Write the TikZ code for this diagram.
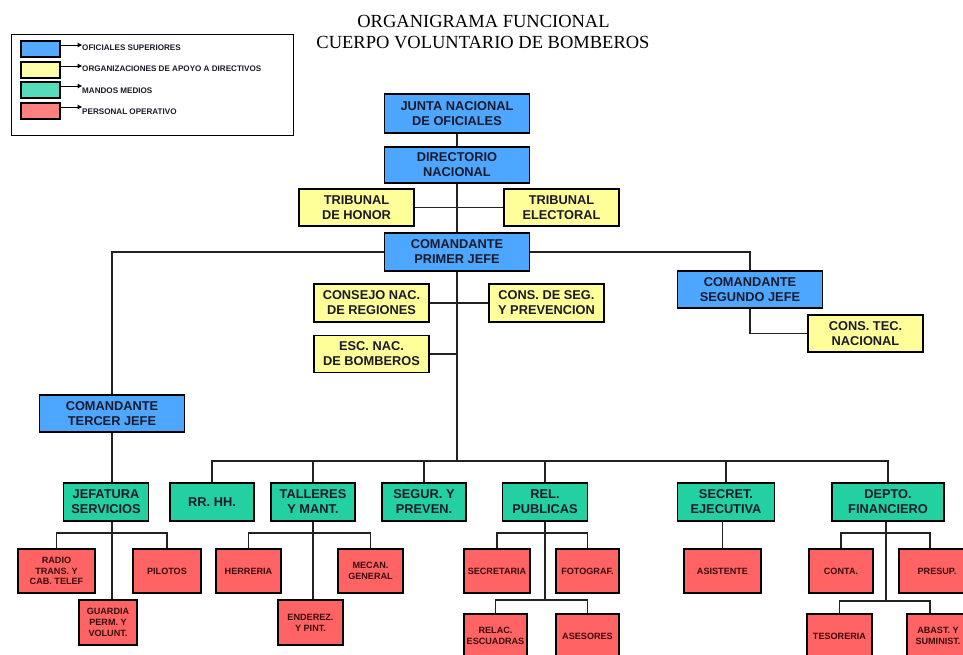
\documentclass[tikz,border=0pt]{standalone}
\usepackage{fontspec}
\setmainfont{Liberation Sans}
\newfontfamily\titlefont{Liberation Serif}
\usetikzlibrary{arrows.meta}
\definecolor{cblue}{HTML}{4DA6FF}
\definecolor{cyel}{HTML}{FFFF99}
\definecolor{cgrn}{HTML}{22D0A2}
\definecolor{cred}{HTML}{FF6363}
\definecolor{lblue}{HTML}{55AAFF}
\definecolor{lyel}{HTML}{FFFFAA}
\definecolor{lgrn}{HTML}{55DDBB}
\definecolor{lred}{HTML}{FF8080}
\definecolor{cline}{HTML}{222222}
\definecolor{ctext}{HTML}{1A1A2A}
\definecolor{rtext}{HTML}{3A0C0C}
\begin{document}
\begin{tikzpicture}[x=1pt,y=-1pt,
  box/.style={draw=black, line width=1.3pt, inner sep=0pt, align=center, text=ctext,
    font=\bfseries\fontsize{12.8}{15}\selectfont},
  sz/.style 2 args={minimum width=#1, minimum height=#2},
  bluebox/.style={box, fill=cblue},
  yelbox/.style={box, fill=cyel},
  grnbox/.style={box, fill=cgrn},
  redbox/.style={box, fill=cred, text=rtext, font=\bfseries\fontsize{9.1}{10.8}\selectfont},
  conn/.style={draw=cline, line width=1.8pt},
  swatch/.style={draw=black, line width=1.1pt, minimum width=39, minimum height=16, inner sep=0pt},
  legtext/.style={anchor=west, inner sep=0pt, text=ctext, font=\bfseries\fontsize{8.1}{10}\selectfont},
  legarrow/.style={draw=black, line width=1pt, -{Triangle[length=4.5pt,width=4.5pt]}},
  titletext/.style={anchor=base, inner sep=0pt, font=\titlefont\fontsize{18.5}{21}\selectfont}
]
\useasboundingbox (0,0) rectangle (963,654);

% Title
\node[titletext] (t1) at (483.5,27.5) {ORGANIGRAMA FUNCIONAL};
\node[titletext] (t2) at (483,48.5) {CUERPO VOLUNTARIO DE BOMBEROS};

% Legend
\node[draw=black, line width=1pt, minimum width=282, minimum height=101, inner sep=0pt] (legend) at (152,84.5) {};
\node[swatch, fill=lblue] (s1) at (40.5,49) {};
\node[swatch, fill=lyel] (s2) at (40.5,70) {};
\node[swatch, fill=lgrn] (s3) at (40.5,90) {};
\node[swatch, fill=lred] (s4) at (40.5,111) {};
\node[legtext] (l1) at (82,47.7) {OFICIALES SUPERIORES};
\node[legtext] (l2) at (82,69) {ORGANIZACIONES DE APOYO A DIRECTIVOS};
\node[legtext] (l3) at (82,91) {MANDOS MEDIOS};
\node[legtext] (l4) at (82,111.5) {PERSONAL OPERATIVO};
\foreach \i in {1,2,3,4} {
  \draw[legarrow] ([yshift=4pt]s\i.east) -- ([yshift=4pt]s\i.east -| l\i.west);
}

% Upper chain
\node[bluebox, sz={145}{39}] (junta) at (457,113.5) {JUNTA NACIONAL\\DE OFICIALES};
\node[bluebox, sz={145}{36}] (dir) at (457,165) {DIRECTORIO\\NACIONAL};
\node[yelbox, sz={115}{37}] (trh) at (356.5,207.5) {TRIBUNAL\\DE HONOR};
\node[yelbox, sz={115}{37}] (tre) at (561.5,207.5) {TRIBUNAL\\ELECTORAL};
\node[bluebox, sz={145}{38}] (cpj) at (457,252) {COMANDANTE\\PRIMER JEFE};
\node[yelbox, sz={115}{38}] (cnr) at (371.5,303) {CONSEJO NAC.\\DE REGIONES};
\node[yelbox, sz={115}{38}] (csp) at (546.5,303) {CONS. DE SEG.\\Y PREVENCION};
\node[yelbox, sz={115}{37}] (esc) at (371.5,354) {ESC. NAC.\\DE BOMBEROS};
\node[bluebox, sz={145}{37}] (csj) at (750,289.5) {COMANDANTE\\SEGUNDO JEFE};
\node[yelbox, sz={115}{37}] (ctn) at (865.5,333.5) {CONS. TEC.\\NACIONAL};
\node[bluebox, sz={145}{37}] (ctj) at (112,413.5) {COMANDANTE\\TERCER JEFE};

% Middle level
\node[grnbox, sz={85}{38}] (jef) at (106,502) {JEFATURA\\SERVICIOS};
\node[grnbox, sz={84}{38}] (rrhh) at (212,502) {RR. HH.};
\node[grnbox, sz={84}{38}] (tal) at (313,502) {TALLERES\\Y MANT.};
\node[grnbox, sz={84}{38}] (seg) at (424,502) {SEGUR. Y\\PREVEN.};
\node[grnbox, sz={85}{38}] (rel) at (545,502) {REL.\\PUBLICAS};
\node[grnbox, sz={97}{38}] (sec) at (726,502) {SECRET.\\EJECUTIVA};
\node[grnbox, sz={112}{38}] (dep) at (888,502) {DEPTO.\\FINANCIERO};

% Bottom level
\node[redbox, sz={77}{44}] (radio) at (56.5,571) {RADIO\\TRANS. Y\\CAB. TELEF};
\node[redbox, sz={68}{44}] (pil) at (167,571) {PILOTOS};
\node[redbox, sz={58}{45}] (guar) at (108,622.5) {GUARDIA\\PERM. Y\\VOLUNT.};
\node[redbox, sz={65}{44}] (herr) at (248.5,571) {HERRERIA};
\node[redbox, sz={65}{44}] (mec) at (370.5,571) {MECAN.\\GENERAL};
\node[redbox, sz={65}{45}] (end) at (310.5,622.5) {ENDEREZ.\\Y PINT.};
\node[redbox, sz={66}{44}] (secr) at (497,571) {SECRETARIA};
\node[redbox, sz={63}{44}] (foto) at (587.5,571) {FOTOGRAF.};
\node[redbox, sz={63}{44}] (relac) at (495.5,636) {RELAC.\\ESCUADRAS};
\node[redbox, sz={63}{44}] (ases) at (587.5,636) {ASESORES};
\node[redbox, sz={77}{44}] (asis) at (722.5,571) {ASISTENTE};
\node[redbox, sz={64}{44}] (conta) at (841,571) {CONTA.};
\node[redbox, sz={76}{44}] (pres) at (937,571) {PRESUP.};
\node[redbox, sz={65}{44}] (teso) at (839.5,636) {TESORERIA};
\node[redbox, sz={62}{44}] (abast) at (938,636) {ABAST. Y\\SUMINIST.};

% Bus coordinates
\coordinate (bus) at (457,461);
\coordinate (relbus) at (545,600);
\coordinate (depbus) at (886,601);

% Connectors: upper
\draw[conn] (junta.south) -- (dir.north);
\draw[conn] (dir.south) -- (cpj.north);
\draw[conn] (trh.east) -- (tre.west);
\draw[conn] (cpj.west) -| (ctj.north);
\draw[conn] (cpj.east) -| (csj.north);
\draw[conn] (cpj.south) -- (bus);
\draw[conn] (cnr.east) -- (csp.west);
\draw[conn] (esc.east) -- (esc.east -| cpj.south);
\draw[conn] (csj.south) |- (ctn.west);

% Middle bus
\draw[conn] (rrhh.north) |- (bus) -| (dep.north);
\draw[conn] (tal.north) -- (tal.north |- bus);
\draw[conn] (seg.north) -- (seg.north |- bus);
\draw[conn] (rel.north) -- (rel.north |- bus);
\draw[conn] (sec.north) -- (sec.north |- bus);
\draw[conn] (ctj.south) -- (ctj.south |- jef.north);

% Lower connectors
\draw[conn] (ctj.south |- jef.south) -- (ctj.south |- guar.north);
\draw[conn] (radio.north) -- ++(0,-15) -| (pil.north);
\draw[conn] (tal.south) -- (tal.south |- end.north);
\draw[conn] (herr.north) -- ++(0,-15) -| (mec.north);
\draw[conn] (rel.south) -- (relbus);
\draw[conn] (secr.north) -- ++(0,-15) -| (foto.north);
\draw[conn] (relac.north) |- (relbus) -| (ases.north);
\draw[conn] (asis.north |- sec.south) -- (asis.north);
\draw[conn] ([xshift=-2pt]dep.south) -- (depbus);
\draw[conn] (conta.north) -- ++(0,-15) -| ([xshift=-7pt]pres.north);
\draw[conn] (teso.north) |- (depbus) -| ([xshift=-8pt]abast.north);
\end{tikzpicture}
\end{document}
